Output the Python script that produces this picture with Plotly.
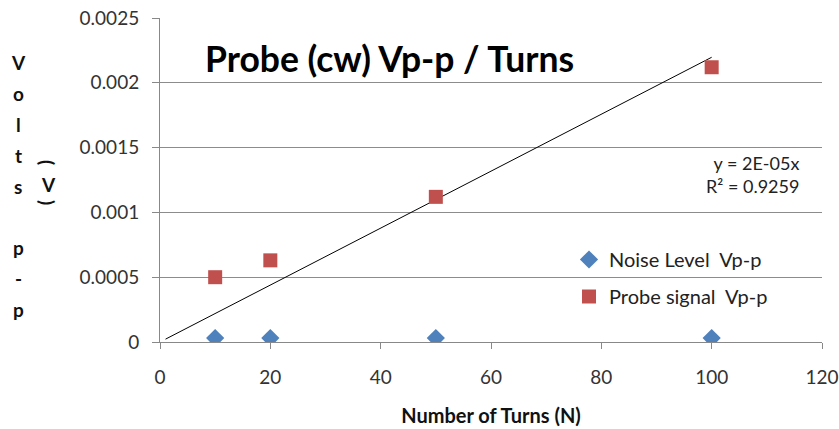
import plotly.graph_objects as go

turns = [10, 20, 50, 100]
noise_vpp = [0.00003, 0.00003, 0.00003, 0.00003]
probe_vpp = [0.0005, 0.00063, 0.00112, 0.00212]
x_ticks = [0, 20, 40, 60, 80, 100, 120]
y_ticks = [0, 0.0005, 0.001, 0.0015, 0.002, 0.0025]
y_tick_text = ["0", "0.0005", "0.001", "0.0015", "0.002", "0.0025"]
ylabel_letters = ["V", "o", "l", "t", "s", "", "p", "-", "p"]

# trendline through origin (least squares)
slope = sum(x * y for x, y in zip(turns, probe_vpp)) / sum(x * x for x in turns)
trend_x = [1, 100]
trend_y = [slope * x for x in trend_x]

FONT = "Lato"
L, R, T, B = 160, 17, 18, 87
PW, PH = 839 - L - R, 429 - T - B


def px(xp):
    return (xp - L) / PW


def py(yp):
    return (429 - B - yp) / PH


fig = go.Figure()
fig.add_trace(go.Scatter(x=trend_x, y=trend_y, mode="lines",
                         line=dict(color="black", width=1), showlegend=False,
                         hoverinfo="skip"))
fig.add_trace(go.Scatter(x=turns, y=noise_vpp, mode="markers", name="Noise Level  Vp-p",
                         legendgroup="a",
                         marker=dict(symbol="diamond", size=14, color="#4F81BD")))
fig.add_trace(go.Scatter(x=turns, y=probe_vpp, mode="markers", name="Probe signal  Vp-p",
                         legendgroup="b",
                         marker=dict(symbol="square", size=14, color="#C0504D")))

fig.update_layout(
    width=839, height=429,
    margin=dict(l=L, r=R, t=T, b=B),
    paper_bgcolor="white", plot_bgcolor="white",
    font=dict(family=FONT, color="#333333"),
    showlegend=True,
    legend=dict(x=px(569), y=py(240), xanchor="left", yanchor="top",
                bgcolor="rgba(0,0,0,0)", font=dict(size=20, color="#222222"),
                itemwidth=30, tracegroupgap=8, traceorder="grouped"),
    xaxis=dict(range=[0, 120], tickvals=x_ticks, showgrid=False, zeroline=False,
               showline=True, linecolor="#888888", linewidth=1,
               ticks="outside", ticklen=6, tickcolor="#888888",
               ticklabelstandoff=12,
               tickfont=dict(size=19, color="#333333"), automargin=False,
               title=dict(text="<b>Number of Turns (N)</b>", font=dict(size=20, color="#111111"),
                          standoff=22)),
    yaxis=dict(range=[0, 0.0025], tickvals=y_ticks, ticktext=y_tick_text,
               showgrid=True, gridcolor="#8c8c8c", gridwidth=1, zeroline=False,
               showline=True, linecolor="#888888", linewidth=1,
               ticks="outside", ticklen=7, tickcolor="#888888", automargin=False,
               ticklabelstandoff=9,
               tickfont=dict(size=19, color="#333333")),
)

fig.add_annotation(text="<b>Probe (cw) Vp-p / Turns</b>", xref="paper", yref="paper",
                   x=px(389), y=py(58), xanchor="center", yanchor="middle", showarrow=False,
                   font=dict(size=35.5, color="black", family=FONT))
fig.add_annotation(text="y = 2E-05x<br>R² = 0.9259", xref="paper", yref="paper",
                   x=px(801), y=py(174), xanchor="right", yanchor="middle", align="right",
                   showarrow=False, font=dict(size=18, color="#222222", family=FONT))

for i, ch in enumerate(ylabel_letters):
    if ch:
        fig.add_annotation(text="<b>" + ch + "</b>", xref="paper", yref="paper",
                           x=px(18), y=py(63 + i * 30.8), xanchor="center", yanchor="middle",
                           showarrow=False, font=dict(size=19, color="#111111", family=FONT))
for ch, yy, ang in [("(", 162, 90), ("V", 184, 0), (")", 202, 90)]:
    fig.add_annotation(text="<b>" + ch + "</b>", xref="paper", yref="paper",
                       x=px(48), y=py(yy), textangle=ang, xanchor="center", yanchor="middle",
                       showarrow=False, font=dict(size=19, color="#111111", family=FONT))

fig.write_html("out.html", config={"displayModeBar": False},
               post_script="document.body.style.margin='0';")
